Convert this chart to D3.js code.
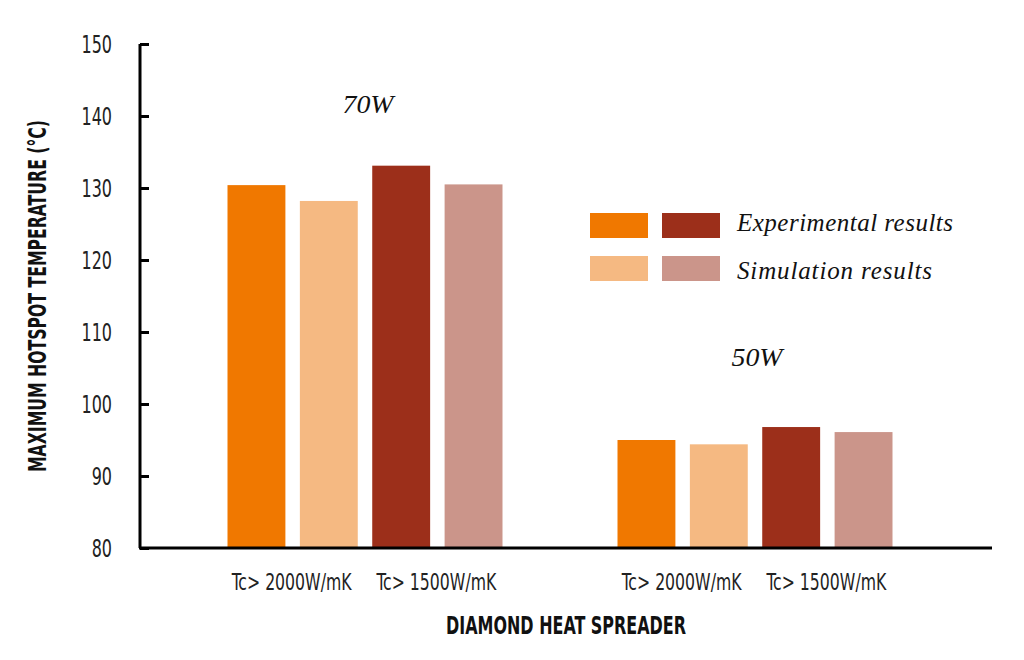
<!DOCTYPE html>
<html><head><meta charset="utf-8">
<script src="https://cdn.jsdelivr.net/npm/d3@7"></script>
<style>
body{margin:0;background:#fff;}
svg{display:block;}
.cond{font-family:"DejaVu Sans Condensed","DejaVu Sans",sans-serif;font-stretch:condensed;}
.ital{font-family:"Liberation Serif","DejaVu Serif",serif;font-style:italic;}
</style>
</head><body>
<svg id="c" width="1024" height="660"></svg>
<script>
const groups = ["70W", "50W"];
const series = ["Exp 2000", "Sim 2000", "Exp 1500", "Sim 1500"];
const values70 = [130.4, 128.2, 133.1, 130.5];
const values50 = [95.0, 94.4, 96.8, 96.1];
const colors = ["#F07800", "#F5B982", "#9C2F1A", "#CB958A"];
const yTicks = [80, 90, 100, 110, 120, 130, 140, 150];
const xLabels = ["Tc> 2000W/mK", "Tc> 1500W/mK"];
const legendLabels = ["Experimental results", "Simulation results"];

const data = [values70, values50];
const svg = d3.select("#c");

const y = d3.scaleLinear().domain([80, 150]).range([548, 44]);
const x0 = d3.scaleBand().domain(groups).range([170, 950]).padding(0);
const x1 = d3.scaleBand().domain(series).range([57.5, 332.5]).paddingInner(0.2).paddingOuter(0);

// bars
groups.forEach((g, gi) => {
  svg.append("g").selectAll("rect").data(data[gi]).join("rect")
    .attr("x", (d, i) => x0(g) + x1(series[i]))
    .attr("width", x1.bandwidth())
    .attr("y", d => y(d))
    .attr("height", d => y(80) - y(d))
    .attr("fill", (d, i) => colors[i]);
});

// y axis
const yAxis = svg.append("g").attr("transform", "translate(140,0)")
  .call(d3.axisRight(y).tickValues(yTicks).tickSize(9).tickFormat(""));
yAxis.select(".domain").attr("stroke", "#000").attr("stroke-width", 3).attr("d", "M0,44V548");
yAxis.selectAll(".tick line").attr("stroke", "#000").attr("stroke-width", 3);

// y tick labels (condensed)
svg.append("g").selectAll("text").data(yTicks).join("text")
  .attr("class", "cond")
  .attr("transform", d => `translate(112,${y(d) + 9}) scale(0.74,1.02)`)
  .attr("text-anchor", "end")
  .attr("font-size", 24)
  .attr("fill", "#222")
  .text(d => d);

// x axis line
svg.append("line").attr("x1", 139).attr("x2", 992).attr("y1", y(80)).attr("y2", y(80))
  .attr("stroke", "#000").attr("stroke-width", 3);

// x labels
groups.forEach(g => {
  [0, 1].forEach(k => {
    const cx = x0(g) + (x1(series[2 * k]) + x1(series[2 * k + 1]) + x1.bandwidth()) / 2;
    svg.append("text").attr("class", "cond")
      .attr("transform", `translate(${cx - 1},590) scale(0.76,1.02)`)
      .attr("text-anchor", "middle").attr("font-size", 23).attr("fill", "#222")
      .text(xLabels[k]);
  });
});

// group labels
svg.append("text").attr("class", "ital").attr("x", x0("70W") + x0.bandwidth() / 2 + 3).attr("y", 113)
  .attr("text-anchor", "middle").attr("font-size", 26).attr("fill", "#111")
  .attr("textLength", 51).attr("lengthAdjust", "spacingAndGlyphs").text("70W");
svg.append("text").attr("class", "ital").attr("x", x0("50W") + x0.bandwidth() / 2 + 2).attr("y", 366)
  .attr("text-anchor", "middle").attr("font-size", 26).attr("fill", "#111")
  .attr("textLength", 51).attr("lengthAdjust", "spacingAndGlyphs").text("50W");

// legend
const leg = svg.append("g");
const legLen = [216, 195];
[[0, 2], [1, 3]].forEach((pair, r) => {
  pair.forEach((ci, c) => {
    leg.append("rect").attr("x", 590 + c * 72).attr("y", 213 + r * 43)
      .attr("width", 58).attr("height", 25).attr("fill", colors[ci]);
  });
  leg.append("text").attr("class", "ital").attr("x", 737).attr("y", 231 + r * 48)
    .attr("font-size", 25).attr("fill", "#111")
    .attr("textLength", legLen[r]).attr("lengthAdjust", "spacing")
    .text(legendLabels[r]);
});

// axis titles
svg.append("text").attr("class", "cond")
  .attr("transform", "translate(46,296) rotate(-90) scale(1,1.15)")
  .attr("text-anchor", "middle").attr("font-size", 21).attr("font-weight", "bold").attr("fill", "#111")
  .attr("textLength", 352).attr("lengthAdjust", "spacingAndGlyphs")
  .text("MAXIMUM HOTSPOT TEMPERATURE (°C)");
svg.append("text").attr("class", "cond")
  .attr("transform", "translate(566,634) scale(1,1.15)")
  .attr("text-anchor", "middle").attr("font-size", 21).attr("font-weight", "bold").attr("fill", "#111")
  .attr("textLength", 240).attr("lengthAdjust", "spacingAndGlyphs")
  .text("DIAMOND HEAT SPREADER");
</script>
</body></html>
